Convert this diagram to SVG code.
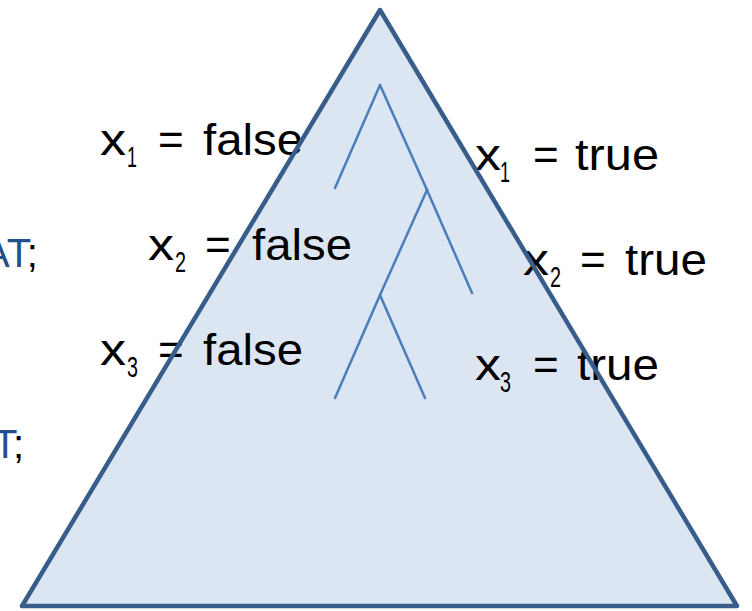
<svg xmlns="http://www.w3.org/2000/svg" width="752" height="611" viewBox="0 0 752 611">
<style>
.lbl{font-family:"Liberation Sans",Arial,sans-serif;font-size:44px;fill:#000}
.sub{font-family:"Liberation Sans",Arial,sans-serif;font-size:30px;fill:#000}
.side{font-family:"Liberation Sans",Arial,sans-serif;font-size:40px}
.edge{stroke:#4a7ebb;stroke-width:2.5;fill:none;stroke-linecap:round}
</style>
<rect width="752" height="611" fill="#fff"/>
<g id="side-text">
<text class="side" x="-17" y="267"><tspan fill="#254f8a">AT</tspan><tspan fill="#000">;</tspan></text>
<text class="side" x="-7" y="458"><tspan fill="#254f8a">T</tspan><tspan fill="#000">;</tspan></text>
</g>
<g id="triangle-fill">
<polygon points="380,10 22,606 737,606" fill="#dce6f2"/>
</g>
<g id="connectors">
<line class="edge" x1="380" y1="85" x2="335" y2="188"/>
<line class="edge" x1="380" y1="85" x2="427" y2="190"/>
<line class="edge" x1="427" y1="190" x2="472" y2="293"/>
<line class="edge" x1="427" y1="190" x2="380" y2="295"/>
<line class="edge" x1="380" y1="295" x2="335" y2="398"/>
<line class="edge" x1="380" y1="295" x2="425" y2="398"/>
</g>
<g id="label-x1-false">
<text class="lbl" x="100" y="155" textLength="26" lengthAdjust="spacingAndGlyphs">x</text>
<text class="sub" x="127" y="167" textLength="10" lengthAdjust="spacingAndGlyphs">1</text>
<text class="lbl" x="158" y="155">=</text>
<text class="lbl" x="203" y="155" textLength="100" lengthAdjust="spacingAndGlyphs">false</text>
</g>
<g id="label-x2-false">
<text class="lbl" x="148" y="260" textLength="26" lengthAdjust="spacingAndGlyphs">x</text>
<text class="sub" x="175" y="272" textLength="11" lengthAdjust="spacingAndGlyphs">2</text>
<text class="lbl" x="205" y="260">=</text>
<text class="lbl" x="252" y="260" textLength="100" lengthAdjust="spacingAndGlyphs">false</text>
</g>
<g id="label-x3-false">
<text class="lbl" x="100" y="365" textLength="26" lengthAdjust="spacingAndGlyphs">x</text>
<text class="sub" x="127" y="377" textLength="11" lengthAdjust="spacingAndGlyphs">3</text>
<text class="lbl" x="158" y="365">=</text>
<text class="lbl" x="203" y="365" textLength="100" lengthAdjust="spacingAndGlyphs">false</text>
</g>
<g id="label-x1-true">
<text class="lbl" x="475" y="170" textLength="26" lengthAdjust="spacingAndGlyphs">x</text>
<text class="sub" x="500" y="182" textLength="10" lengthAdjust="spacingAndGlyphs">1</text>
<text class="lbl" x="533" y="170">=</text>
<text class="lbl" x="575" y="170" textLength="84" lengthAdjust="spacingAndGlyphs">true</text>
</g>
<g id="label-x2-true">
<text class="lbl" x="523" y="275" textLength="26" lengthAdjust="spacingAndGlyphs">x</text>
<text class="sub" x="550" y="287" textLength="11" lengthAdjust="spacingAndGlyphs">2</text>
<text class="lbl" x="580" y="275">=</text>
<text class="lbl" x="625" y="275" textLength="82" lengthAdjust="spacingAndGlyphs">true</text>
</g>
<g id="label-x3-true">
<text class="lbl" x="475" y="380" textLength="26" lengthAdjust="spacingAndGlyphs">x</text>
<text class="sub" x="500" y="392" textLength="11" lengthAdjust="spacingAndGlyphs">3</text>
<text class="lbl" x="533" y="380">=</text>
<text class="lbl" x="577" y="380" textLength="82" lengthAdjust="spacingAndGlyphs">true</text>
</g>
<g id="triangle-outline">
<polygon points="380,10 22,606 737,606" fill="none" stroke="#385d8a" stroke-width="4.5" stroke-linejoin="round"/>
</g>
</svg>
